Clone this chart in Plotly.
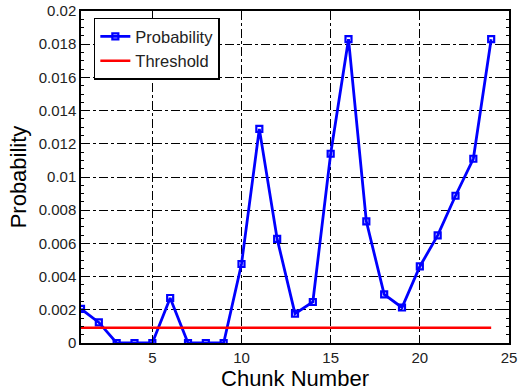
import plotly.graph_objects as go

chunks = list(range(1, 25))
probability = [0.00205, 0.00124, 0.0, 0.0, 0.0, 0.00271, 0.0, 0.0, 0.0, 0.00476,
               0.0129, 0.00627, 0.00177, 0.00247, 0.0114, 0.0183, 0.00733, 0.00293,
               0.00214, 0.00461, 0.00648, 0.00887, 0.0111, 0.0183]
threshold_x = [1, 24]
threshold_y = [0.00092, 0.00092]

x_ticks = [5, 10, 15, 20, 25]
y_ticks = [0, 0.002, 0.004, 0.006, 0.008, 0.01, 0.012, 0.014, 0.016, 0.018, 0.02]
y_ticklabels = ["0", "0.002", "0.004", "0.006", "0.008", "0.01", "0.012", "0.014", "0.016", "0.018", "0.02"]

fig = go.Figure()
fig.add_trace(go.Scatter(
    x=chunks, y=probability, name="Probability", mode="lines+markers",
    line=dict(color="#0000ff", width=2.8),
    marker=dict(symbol="square-open", size=6, color="#0000ff", line=dict(width=2.2, color="#0000ff")),
))
fig.add_trace(go.Scatter(
    x=threshold_x, y=threshold_y, name="Threshold", mode="lines",
    line=dict(color="#ff0000", width=2.5),
))

axis_common = dict(
    showline=True, linecolor="black", linewidth=1.5, mirror="allticks",
    ticks="inside", ticklen=5, tickcolor="black", tickwidth=1,
    showgrid=True, gridcolor="black", gridwidth=1, griddash="dashdot",
    zeroline=False, automargin=False,
    tickfont=dict(family="Liberation Sans, Arial", size=15, color="#222"),
)

fig.update_xaxes(
    range=[1, 25], tickvals=x_ticks,
    title=dict(text="Chunk Number", font=dict(family="Liberation Sans, Arial", size=22, color="black"), standoff=4),
    **axis_common,
)
fig.update_yaxes(
    range=[0, 0.02], tickvals=y_ticks, ticktext=y_ticklabels,
    minor=dict(ticks="inside", dtick=0.0005, ticklen=3, tickcolor="black", showgrid=False),
    title=dict(text="Probability", font=dict(family="Liberation Sans, Arial", size=22, color="black"), standoff=6),
    **axis_common,
)

fig.update_layout(
    width=520, height=392,
    margin=dict(l=81, r=11, t=11, b=49),
    paper_bgcolor="white", plot_bgcolor="white",
    showlegend=True,
    legend=dict(
        x=0.03, y=0.98, xanchor="left", yanchor="top",
        bgcolor="white", bordercolor="black", borderwidth=1.5,
        font=dict(family="Liberation Sans, Arial", size=16.5, color="#222"),
        tracegroupgap=0, itemwidth=30,
    ),
)

fig.write_html("out.html")
